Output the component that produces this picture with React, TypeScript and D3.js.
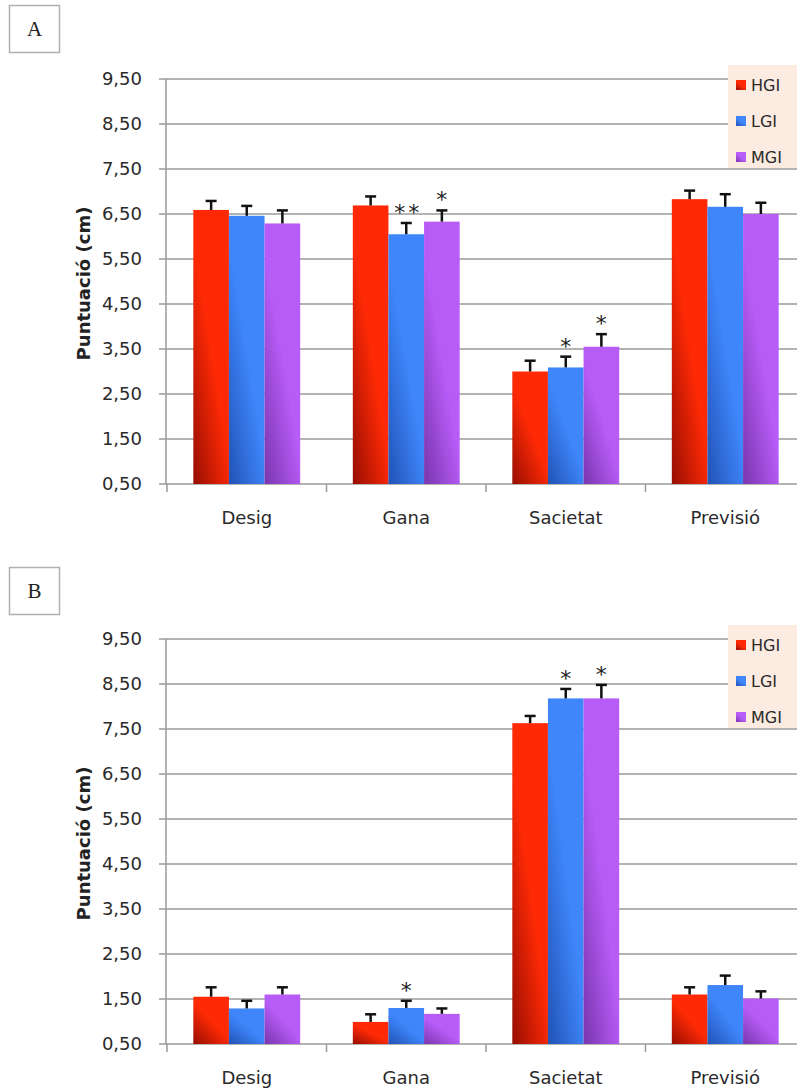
import React from "react";
import * as d3 from "d3";

// Categories and groups
const categories = ["Desig", "Gana", "Sacietat", "Previsió"];
const series = ["HGI", "LGI", "MGI"];

// Panel A: means and standard errors
const aHGI = [6.59, 6.69, 3.0, 6.83];
const aLGI = [6.46, 6.05, 3.09, 6.66];
const aMGI = [6.29, 6.33, 3.55, 6.5];
const aErrHGI = [0.2, 0.2, 0.24, 0.19];
const aErrLGI = [0.22, 0.25, 0.24, 0.28];
const aErrMGI = [0.29, 0.25, 0.28, 0.25];
const aSigHGI = ["", "", "", ""];
const aSigLGI = ["", "**", "*", ""];
const aSigMGI = ["", "*", "*", ""];

// Panel B: means and standard errors
const bHGI = [1.55, 0.99, 7.63, 1.6];
const bLGI = [1.29, 1.3, 8.18, 1.81];
const bMGI = [1.6, 1.17, 8.18, 1.51];
const bErrHGI = [0.21, 0.17, 0.16, 0.16];
const bErrLGI = [0.17, 0.16, 0.21, 0.21];
const bErrMGI = [0.16, 0.12, 0.3, 0.16];
const bSigHGI = ["", "", "", ""];
const bSigLGI = ["", "*", "*", ""];
const bSigMGI = ["", "", "*", ""];

const yTicks = [0.5, 1.5, 2.5, 3.5, 4.5, 5.5, 6.5, 7.5, 8.5, 9.5];
const yDomain: [number, number] = [0.5, 9.5];
const yTitle = "Puntuació (cm)";

const seriesColors = [
  { light: "#ff2a05", dark: "#960e02" },
  { light: "#3f86fb", dark: "#2153b5" },
  { light: "#b85cf8", dark: "#7936ad" },
];
const legendBg = "#fbebe0";

const locale = d3.formatLocale({
  decimal: ",",
  thousands: ".",
  grouping: [3],
  currency: ["", "€"],
});
const fmt = locale.format(".2f");

const FONT = "'DejaVu Sans', sans-serif";
const W = 797;
const H = 1090;
const left = 166;
const right = 805;

type PanelProps = {
  label: string;
  top: number;
  boxTop: number;
  values: number[][];
  errors: number[][];
  sig: string[][];
  gid: string;
};

function Panel({ label, top, boxTop, values, errors, sig, gid }: PanelProps) {
  const bottom = top + 405;
  const y = d3.scaleLinear().domain(yDomain).range([bottom, top]);
  const x0 = d3
    .scaleBand<string>()
    .domain(categories)
    .range([left + 1, right])
    .paddingInner(0.33)
    .paddingOuter(0.165);
  const x1 = d3
    .scaleBand<string>()
    .domain(series)
    .range([0, x0.bandwidth()]);
  const step = x0.step();
  const boundaries = d3.range(categories.length + 1).map((i) => left + 1 + i * step);

  return (
    <g>
      <defs>
        {seriesColors.map((c, i) => (
          <linearGradient key={i} id={`${gid}-g${i}`} x1="0.8" y1="0" x2="0" y2="1">
            <stop offset="0" stopColor={c.light} />
            <stop offset="0.45" stopColor={c.light} />
            <stop offset="1" stopColor={c.dark} />
          </linearGradient>
        ))}
      </defs>

      {/* panel letter */}
      <rect x={9.5} y={boxTop + 0.5} width={50} height={47} fill="#fff" stroke="#b0b0b0" strokeWidth={1.5} />
      <text x={34.5} y={boxTop + 31} textAnchor="middle" fontFamily="'Liberation Serif', 'DejaVu Serif', serif" fontSize={21} fill="#222">
        {label}
      </text>

      {/* grid lines and y ticks */}
      {yTicks.map((t) => (
        <g key={t}>
          <line x1={left} x2={W} y1={y(t)} y2={y(t)} stroke="#9a9a9a" strokeWidth={1.5} />
          <line x1={left - 7} x2={left} y1={y(t)} y2={y(t)} stroke="#9a9a9a" strokeWidth={1.5} />
          <text x={142} y={y(t)} dy="0.36em" textAnchor="end" fontFamily={FONT} fontSize={18} fill="#2a2a2a">
            {fmt(t)}
          </text>
        </g>
      ))}
      <line x1={left} x2={left} y1={top} y2={bottom} stroke="#9a9a9a" strokeWidth={1.5} />
      {boundaries.map((bx, i) => (
        <line key={i} x1={bx} x2={bx} y1={bottom} y2={bottom + 8} stroke="#9a9a9a" strokeWidth={1.5} />
      ))}

      {/* y title */}
      <text
        transform={`translate(84,${(top + bottom) / 2 + 2}) rotate(-90)`}
        textAnchor="middle"
        dy="0.35em"
        fontFamily={FONT}
        fontWeight="bold"
        fontSize={18}
        fill="#222"
      >
        {yTitle}
      </text>

      {/* bars with error bars and significance marks */}
      {categories.map((c, ci) => (
        <g key={c} transform={`translate(${x0(c)},0)`}>
          {series.map((s, si) => {
            const v = values[si][ci];
            const e = errors[si][ci];
            const bx = x1(s)!;
            const bw = x1.bandwidth();
            const cx = bx + bw / 2;
            const capY = y(v + e);
            const mark = sig[si][ci];
            return (
              <g key={s}>
                <rect x={bx} y={y(v)} width={bw} height={bottom - y(v)} fill={`url(#${gid}-g${si})`} />
                <line x1={cx} x2={cx} y1={y(v)} y2={capY} stroke="#111" strokeWidth={2.5} />
                <line x1={cx - 5.5} x2={cx + 5.5} y1={capY} y2={capY} stroke="#111" strokeWidth={2.5} />
                {mark && (
                  <text
                    x={cx + (mark.length > 1 ? 2 : 0)}
                    y={capY - 3}
                    textAnchor="middle"
                    fontFamily={FONT}
                    fontSize={22}
                    letterSpacing={mark.length > 1 ? 3 : 0}
                    fill="#222"
                  >
                    {mark}
                  </text>
                )}
              </g>
            );
          })}
        </g>
      ))}

      {/* category labels */}
      {categories.map((c) => (
        <text
          key={c}
          x={x0(c)! + x0.bandwidth() / 2}
          y={bottom + 40}
          textAnchor="middle"
          fontFamily={FONT}
          fontSize={18}
          fill="#2a2a2a"
        >
          {c}
        </text>
      ))}

      {/* legend */}
      <rect x={728} y={top - 14} width={80} height={103} fill={legendBg} />
      {series.map((s, i) => (
        <g key={s} transform={`translate(736,${top + 6 + i * 36})`}>
          <rect x={0} y={-5} width={10} height={10} fill={`url(#${gid}-g${i})`} />
          <text x={15} y={0} dy="0.36em" fontFamily={FONT} fontSize={16} fill="#2a2a2a">
            {s}
          </text>
        </g>
      ))}
    </g>
  );
}

export default function App() {
  return (
    <svg
      width={W}
      height={H}
      viewBox={`0 0 ${W} ${H}`}
      style={{ position: "absolute", left: 0, top: 0, background: "#fff" }}
    >
      <rect width={W} height={H} fill="#fff" />
      <Panel
        label="A"
        top={79}
        boxTop={5}
        gid="pa"
        values={[aHGI, aLGI, aMGI]}
        errors={[aErrHGI, aErrLGI, aErrMGI]}
        sig={[aSigHGI, aSigLGI, aSigMGI]}
      />
      <Panel
        label="B"
        top={639}
        boxTop={567}
        gid="pb"
        values={[bHGI, bLGI, bMGI]}
        errors={[bErrHGI, bErrLGI, bErrMGI]}
        sig={[bSigHGI, bSigLGI, bSigMGI]}
      />
    </svg>
  );
}
